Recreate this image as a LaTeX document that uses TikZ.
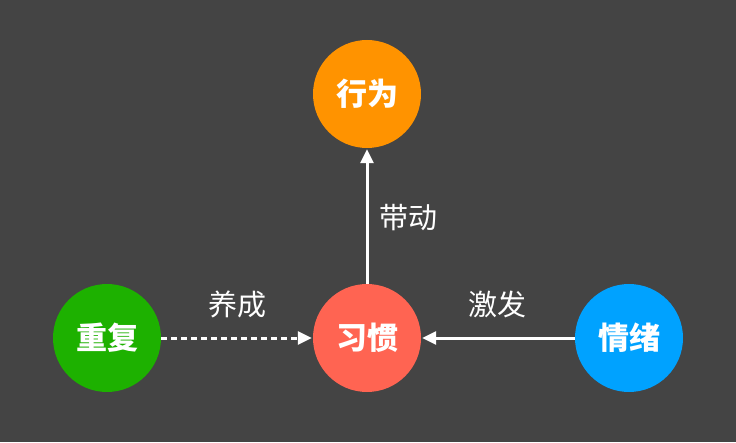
\documentclass[tikz,border=0pt]{standalone}
\usepackage{fontspec}
\newfontfamily\cjk{Noto Sans CJK SC}
\usetikzlibrary{arrows.meta}
\definecolor{bg}{HTML}{444444}
\definecolor{corange}{HTML}{FF9300}
\definecolor{cred}{HTML}{FF6452}
\definecolor{cgreen}{HTML}{1DB100}
\definecolor{cblue}{HTML}{00A2FF}
\tikzset{
  bubble/.style={circle, minimum size=108pt, inner sep=0pt, text=white, font=\cjk\bfseries\fontsize{31}{33}\selectfont},
  lbl/.style={text=white, font=\cjk\fontsize{29}{31}\selectfont},
  link/.style={draw=white, line width=3pt, -{Triangle[length=14pt,width=13pt]}, shorten >=1pt},
}
\begin{document}
\begin{tikzpicture}[x=1pt,y=1pt]
\fill[bg] (0,0) rectangle (736,442);
\useasboundingbox (0,0) rectangle (736,442);
\node[bubble, fill=corange] (xw) at (367,348) {行为};
\node[bubble, fill=cred] (xg) at (367,104) {习惯};
\node[bubble, fill=cgreen] (cf) at (107,104) {重复};
\node[bubble, fill=cblue] (qx) at (629,104) {情绪};
\draw[link] (xg) -- (xw);
\draw[link, dash pattern=on 6pt off 4pt] (cf) -- (xg);
\draw[link] (qx) -- (xg);
\node[lbl] (l1) at (408,224) {带动};
\node[lbl] (l2) at (237,138) {养成};
\node[lbl] (l3) at (497,138) {激发};
\end{tikzpicture}
\end{document}
